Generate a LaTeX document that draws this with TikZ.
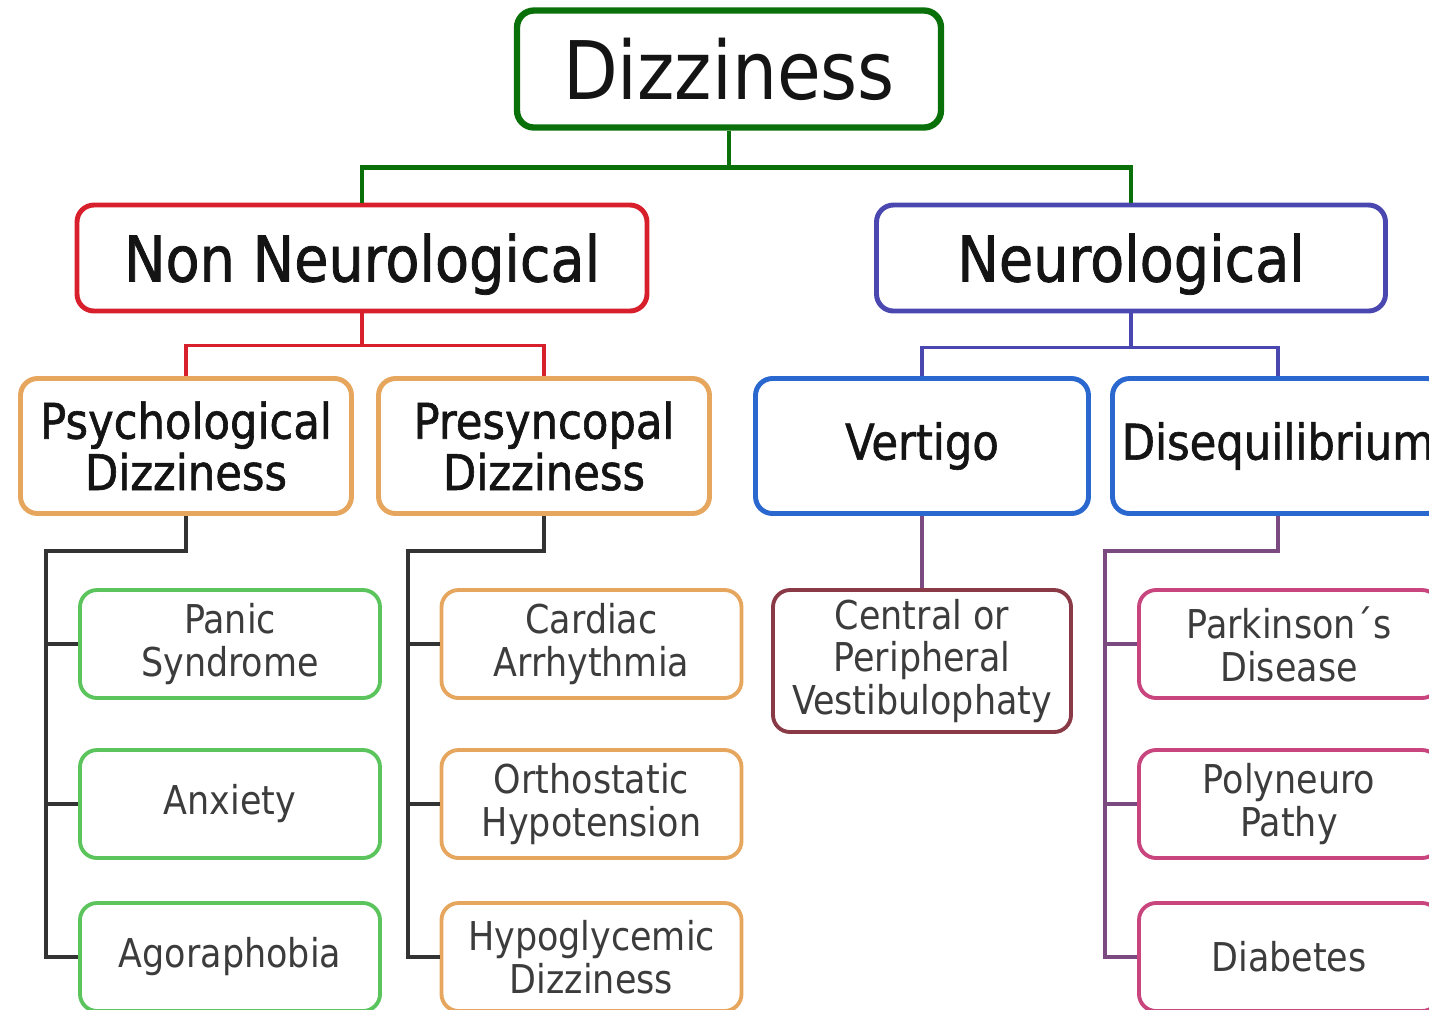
\documentclass[tikz,border=0pt]{standalone}
\usepackage{fontspec}
\setmainfont{DejaVu Sans}[FakeStretch=0.88]
\newfontfamily\headfont{DejaVu Sans}[FakeStretch=0.88,FakeBold=1.2]
\usepackage{tikz}
\usetikzlibrary{calc}

\definecolor{dgreen}{HTML}{0A700A}
\definecolor{nred}{HTML}{D8202C}
\definecolor{nindigo}{HTML}{4A48B0}
\definecolor{sorange}{HTML}{E6A65E}
\definecolor{sblue}{HTML}{2A68D0}
\definecolor{lgreen}{HTML}{5CC45C}
\definecolor{maroon}{HTML}{8A3A46}
\definecolor{lpink}{HTML}{C8457E}
\definecolor{cdark}{HTML}{333333}
\definecolor{cpurple}{HTML}{7A4A80}
\definecolor{leafgray}{HTML}{3C3C3C}

\tikzset{
  box/.style={draw, rounded corners=0.17cm, fill=white, align=center, inner sep=0pt, text=black!92},
  dizzbox/.style={box, draw=dgreen, line width=1.8pt, minimum width=4.24cm, minimum height=1.17cm, font=\fontsize{23}{25}\selectfont},
  catbox/.style={box, line width=1.4pt, minimum height=1.06cm, text height=17.6pt, text depth=4.2pt, font=\headfont\fontsize{18}{19}\selectfont},
  subbox/.style={box, line width=1.4pt, minimum width=3.31cm, minimum height=1.35cm, font=\headfont\fontsize{14}{14.6}\selectfont},
  leaf/.style={box, line width=1.1pt, minimum width=3.0cm, minimum height=1.08cm, text=leafgray, font=\fontsize{11.3}{12.2}\selectfont},
  conn/.style={line width=1.1pt}
}

\begin{document}
\begin{tikzpicture}
    \path[use as bounding box, clip] (0,0) rectangle (14.29,-10.09);

    % top and the two main groups
    \node[dizzbox] (dizz) at (7.29,-0.69) {Dizziness};
    \node[catbox, draw=nred, minimum width=5.70cm] (nonneuro) at (3.62,-2.58) {Non Neurological};
    \node[catbox, draw=nindigo, minimum width=5.09cm] (neuro) at (11.31,-2.58) {Neurological};

    % second level
    \node[subbox, draw=sorange] (psych) at (1.86,-4.46) {Psychological\\Dizziness};
    \node[subbox, draw=sorange] (presync) at (5.44,-4.46) {Presyncopal\\Dizziness};
    \node[subbox, draw=sblue, minimum width=3.33cm] (vertigo) at (9.22,-4.46) {Vertigo};
    \node[subbox, draw=sblue] (diseq) at (12.78,-4.46) {Disequilibrium};

    % leaves
    \node[leaf, draw=lgreen] (panic) at (2.30,-6.44) {Panic\\Syndrome};
    \node[leaf, draw=lgreen] (anxiety) at (2.30,-8.04) {Anxiety};
    \node[leaf, draw=lgreen] (agora) at (2.30,-9.57) {Agoraphobia};
    \node[leaf, draw=sorange] (cardiac) at (5.915,-6.44) {Cardiac\\Arrhythmia};
    \node[leaf, draw=sorange] (ortho) at (5.915,-8.04) {Orthostatic\\Hypotension};
    \node[leaf, draw=sorange] (hypo) at (5.915,-9.57) {Hypoglycemic\\Dizziness};
    \node[leaf, draw=maroon, minimum width=2.98cm, minimum height=1.42cm] (central) at (9.22,-6.61) {Central or\\Peripheral\\Vestibulophaty};
    \node[leaf, draw=lpink] (parkinson) at (12.89,-6.44) {Parkinson´s\\Disease};
    \node[leaf, draw=lpink] (poly) at (12.89,-8.04) {Polyneuro\\Pathy};
    \node[leaf, draw=lpink] (diabetes) at (12.89,-9.57) {Diabetes};

    % tree lines
    \draw[conn, dgreen, line width=1.3pt] (dizz.south) -- ++(0,-0.37) coordinate (dj);
    \draw[conn, dgreen, line width=1.3pt] (nonneuro.north) |- (dj) -| (neuro.north);
    \draw[conn, nred] (nonneuro.south) -- ++(0,-0.32) coordinate (nj);
    \draw[conn, nred] (psych.north) |- (nj) -| (presync.north);
    \draw[conn, nindigo] (neuro.south) -- ++(0,-0.34) coordinate (uj);
    \draw[conn, nindigo] (vertigo.north) |- (uj) -| (diseq.north);
    \draw[conn, cpurple] (vertigo.south) -- (central.north);

    \coordinate (ptrunk) at (0.46,-5.51);
    \coordinate (strunk) at (4.08,-5.51);
    \coordinate (qtrunk) at (11.05,-5.51);
    \draw[conn, cdark] (psych.south) |- (ptrunk) |- (agora.west);
    \draw[conn, cdark] (presync.south) |- (strunk) |- (hypo.west);
    \draw[conn, cpurple] (diseq.south) |- (qtrunk) |- (diabetes.west);
    \foreach \n in {panic,anxiety}
        \draw[conn, cdark] (\n.west -| ptrunk) -- (\n.west);
    \foreach \n in {cardiac,ortho}
        \draw[conn, cdark] (\n.west -| strunk) -- (\n.west);
    \foreach \n in {parkinson,poly}
        \draw[conn, cpurple] (\n.west -| qtrunk) -- (\n.west);
\end{tikzpicture}
\end{document}
